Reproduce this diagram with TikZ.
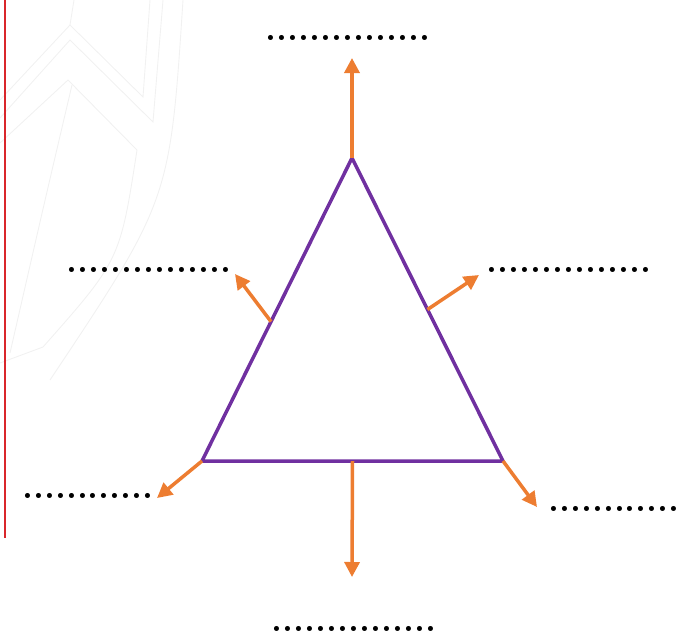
\documentclass[tikz,border=0pt]{standalone}
\usepackage{fontspec}
\usetikzlibrary{arrows.meta,calc}
\definecolor{triviolet}{HTML}{7030A0}
\definecolor{arrorange}{HTML}{ED7D31}
\definecolor{rulered}{HTML}{D9262B}

\begin{document}
\begin{tikzpicture}[x=1pt,y=-1pt,
      blank/.style={font=\fontsize{35}{35}\selectfont\bfseries,inner sep=0pt,anchor=base},
      side/.style={draw=triviolet,line width=3.5pt,line join=miter},
      pointer/.style={draw=arrorange,line width=3.5pt,-{Triangle[length=15pt,width=15pt]}},
      wm/.style={draw=gray!11,line width=0.9pt}]
    \useasboundingbox (0,0) rectangle (691,638);
    % faint background marks
    \draw[wm] (0,100) -- (70,25) -- (143,97) -- (150,0);
    \draw[wm] (70,25) -- (74,0);
    \draw[wm] (0,118) -- (70,40) -- (153,122) -- (163,0);
    \draw[wm] (0,143) -- (68,80) -- (137,150) .. controls (120,260) .. (43,347) -- (0,363);
    \draw[wm] (72,85) .. controls (45,200) .. (10,353);
    \draw[wm] (183,0) .. controls (170,200) .. (50,380);
    \draw[draw=rulered,line width=1.2pt] (5,0) -- (5,538);
    % triangle
    \coordinate (apex) at (352,158);
    \coordinate (bl) at (202,461);
    \coordinate (br) at (503,461);
    \draw[side] (apex) -- (bl) -- (br) -- cycle;
    \coordinate (lside) at ($(apex)!0.54!(bl)$);
    \coordinate (rside) at ($(apex)!0.5!(br)$);
    \coordinate (base) at ($(bl)!0.5!(br)$);
    % arrows
    \coordinate (topend) at (352,58);
    \coordinate (lend) at (235,274);
    \coordinate (rend) at (479,275);
    \coordinate (blend) at (157,498);
    \coordinate (brend) at (537,507);
    \coordinate (bend) at (352,577);
    \draw[pointer] (apex) -- (topend);
    \draw[pointer] (lside) -- (lend);
    \draw[pointer] (rside) -- (rend);
    \draw[pointer] (bl) -- (blend);
    \draw[pointer] (br) -- (brend);
    \draw[pointer] (base) -- (bend);
    % blanks
    \node[blank] (ttop) at (348,40) {...............};
    \node[blank] (tleft) at (149,272) {...............};
    \node[blank] (tright) at (569,272) {...............};
    \node[blank] (tbl) at (88,498) {............};
    \node[blank] (tbr) at (614,511) {............};
    \node[blank] (tbot) at (354,631) {...............};
  \end{tikzpicture}
\end{document}
